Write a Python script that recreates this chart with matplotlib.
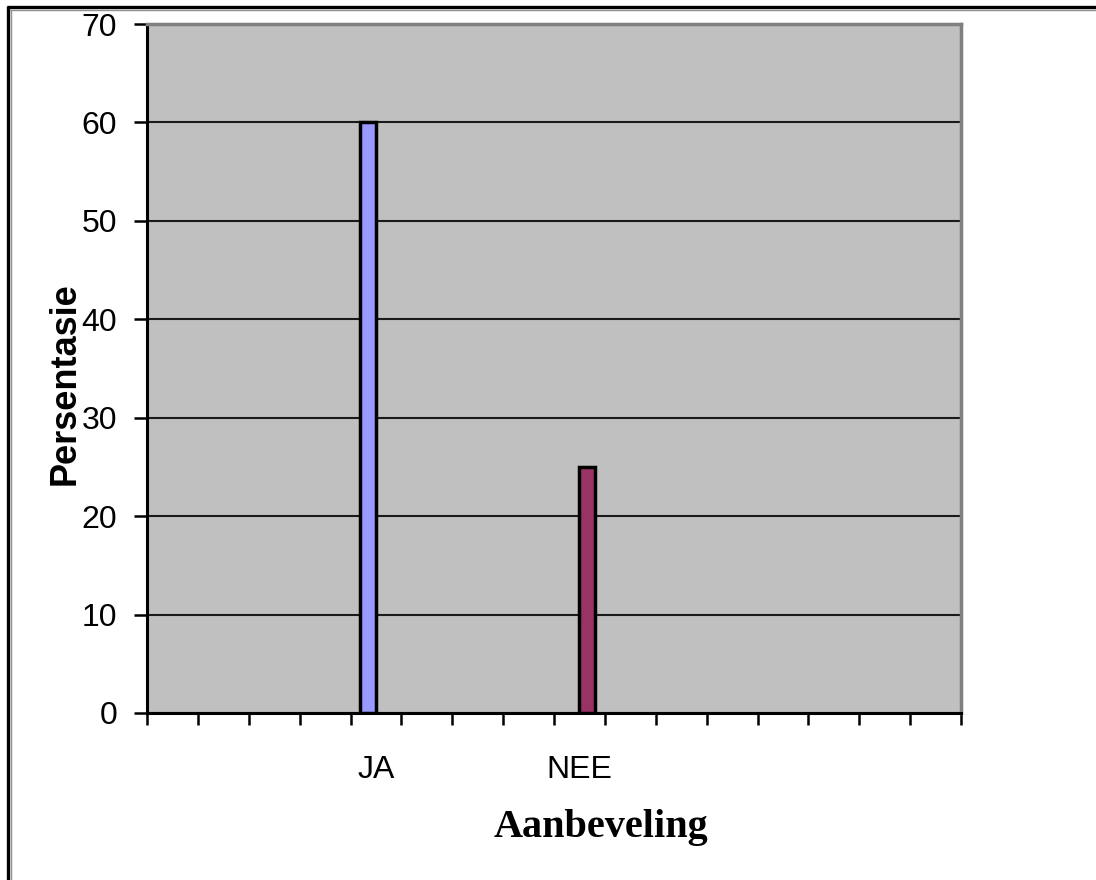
import matplotlib
matplotlib.use("Agg")
import matplotlib.pyplot as plt
from matplotlib.lines import Line2D
import numpy as np

# Category slots along the x axis (most are unlabelled)
categories = ["", "", "", "", "JA", "", "", "", "NEE", "", "", "", "", "", "", ""]

# Two series, each with a single value
series_ja_cats = ["JA"]
series_ja_vals = [60]
series_nee_cats = ["NEE"]
series_nee_vals = [25]

y_ticks = [0, 10, 20, 30, 40, 50, 60, 70]

fig = plt.figure(figsize=(10.96, 8.8), dpi=100)
fig.patch.set_facecolor("white")

ax = fig.add_axes([147 / 1096, 1 - 713 / 880, 814 / 1096, 689 / 880])
ax.set_facecolor("#C0C0C0")

n = len(categories)
bar_w = 0.31
pos_ja = [categories.index(c) + 0.5 - bar_w / 2 for c in series_ja_cats]
pos_nee = [categories.index(c) + 0.5 + bar_w / 2 for c in series_nee_cats]

ax.bar(pos_ja, series_ja_vals, width=bar_w, color="#9999FF",
       edgecolor="black", linewidth=2.5, zorder=3)
ax.bar(pos_nee, series_nee_vals, width=bar_w, color="#993366",
       edgecolor="black", linewidth=2.5, zorder=3)

ax.set_xlim(0, n)
ax.set_ylim(0, 70)

# Horizontal gridlines
ax.set_yticks(y_ticks)
ax.yaxis.grid(True, color="#1a1a1a", linewidth=1.5, zorder=1)
ax.set_axisbelow(True)

# Major x ticks on slot edges, labels at slot centres
ax.set_xticks(np.arange(0, n + 1))
ax.set_xticklabels([])
ax.set_xticks(np.arange(n) + 0.5, minor=True)
ax.set_xticklabels(categories, minor=True, fontsize=23,
                   fontfamily="Liberation Sans")
ax.tick_params(axis="x", which="major", direction="out", length=8.6,
               width=1.8, color="black")
ax.tick_params(axis="x", which="minor", length=0, pad=30)
ax.tick_params(axis="y", direction="out", length=9.4, width=1.8,
               color="black", pad=12, labelsize=23)
for lbl in ax.get_yticklabels():
    lbl.set_fontfamily("Liberation Sans")

for side in ("left", "bottom"):
    ax.spines[side].set_color("black")
    ax.spines[side].set_linewidth(2.2)
for side in ("top", "right"):
    ax.spines[side].set_color("#808080")
    ax.spines[side].set_linewidth(2.5)

ax.set_ylabel("Persentasie", fontsize=26, fontweight="bold",
              fontfamily="Liberation Sans", va="center")
ax.yaxis.set_label_coords(-0.1007, 0.4775)
ax.set_xlabel("Aanbeveling", fontsize=29, fontweight="bold",
              fontfamily="Liberation Serif", va="center")
ax.xaxis.set_label_coords(0.558, -0.1655)

# Double frame along the top and left edges of the figure
W, H = 1096, 880
fig.add_artist(Line2D([7 / W, 1], [1 - 7.5 / H, 1 - 7.5 / H], color="black",
                      linewidth=2.4, solid_capstyle="butt",
                      transform=fig.transFigure))
fig.add_artist(Line2D([10 / W, 1], [1 - 10.5 / H, 1 - 10.5 / H], color="#909090",
                      linewidth=1.0, solid_capstyle="butt",
                      transform=fig.transFigure))
fig.add_artist(Line2D([7.5 / W, 7.5 / W], [0, 1 - 6 / H], color="black",
                      linewidth=2.4, solid_capstyle="butt",
                      transform=fig.transFigure))
fig.add_artist(Line2D([10.5 / W, 10.5 / W], [0, 1 - 10 / H], color="#909090",
                      linewidth=1.0, solid_capstyle="butt",
                      transform=fig.transFigure))

fig.savefig("out.png", dpi=100)
